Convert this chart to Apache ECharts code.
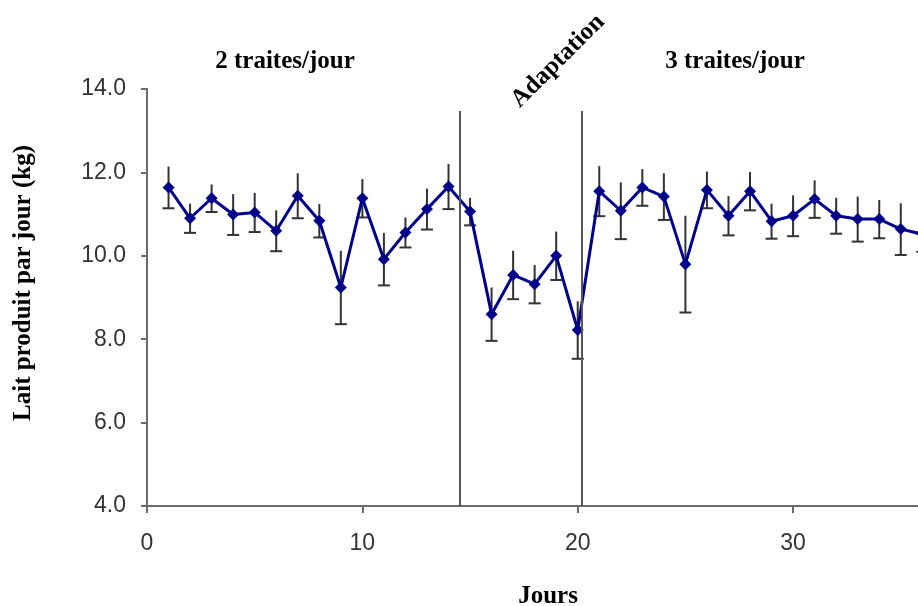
<!DOCTYPE html>
<html>
<head>
<meta charset="utf-8">
<script src="https://cdn.jsdelivr.net/npm/echarts@6/dist/echarts.min.js"></script>
<style>
html,body{margin:0;padding:0;background:#fff;}
#chart{width:918px;height:606px;}
</style>
</head>
<body>
<div id="chart"></div>
<script>
// Data
var days = [1,2,3,4,5,6,7,8,9,10,11,12,13,14,15,16,17,18,19,20,21,22,23,24,25,26,27,28,29,30,31,32,33,34,35,36];
var means = [11.64,10.90,11.38,10.99,11.04,10.60,11.44,10.84,9.24,11.38,9.92,10.56,11.12,11.66,11.06,8.60,9.54,9.32,10.00,8.22,11.55,11.08,11.64,11.42,9.80,11.58,10.96,11.55,10.83,10.96,11.36,10.96,10.88,10.88,10.64,10.52];
var errors = [0.50,0.35,0.33,0.49,0.47,0.49,0.54,0.40,0.88,0.46,0.63,0.36,0.49,0.54,0.33,0.64,0.58,0.46,0.58,0.69,0.60,0.68,0.44,0.56,1.16,0.44,0.47,0.46,0.42,0.49,0.45,0.43,0.54,0.46,0.62,0.42];
var separators = [14.5, 20.2];
var separatorTop = 13.47;
var yTicks = [4, 14, 2];      // min, max, interval
var xTicks = [0, 35.8, 10];   // min, visible max, interval
var xTickValues = [0, 10, 20, 30];
var periodLabels = ['2 traites/jour', 'Adaptation', '3 traites/jour'];
var xTitle = 'Jours';
var yTitle = 'Lait produit par jour (kg)';

var lineData = days.map(function (d, i) { return [d, means[i]]; });
var errData = days.map(function (d, i) { return [d, means[i] - errors[i], means[i] + errors[i]]; });

var chart = echarts.init(document.getElementById('chart'), null, {renderer: 'canvas'});
var titleFont = {fontFamily: 'Liberation Serif', fontWeight: 'bold', fontSize: 25, fill: '#000'};

chart.setOption({
  animation: false,
  backgroundColor: '#fff',
  grid: {left: 147, top: 89, right: 0, bottom: 100, containLabel: false},
  xAxis: {
    type: 'value', min: xTicks[0], max: xTicks[1], interval: xTicks[2],
    axisLine: {show: true, lineStyle: {color: '#6b6b6b', width: 2}},
    axisTick: {show: true, length: 7, customValues: xTickValues, lineStyle: {color: '#6b6b6b', width: 2}},
    axisLabel: {
      color: '#333', fontFamily: 'Liberation Sans', fontSize: 23, margin: 26,
      customValues: xTickValues,
      formatter: function (v) { return String(v); }
    },
    splitLine: {show: false}
  },
  yAxis: {
    type: 'value', min: yTicks[0], max: yTicks[1], interval: yTicks[2],
    axisLine: {show: true, lineStyle: {color: '#6b6b6b', width: 2}},
    axisTick: {show: true, length: 6, lineStyle: {color: '#6b6b6b', width: 2}},
    axisLabel: {
      color: '#333', fontFamily: 'Liberation Sans', fontSize: 23, margin: 21,
      formatter: function (v) { return v.toFixed(1); }
    },
    splitLine: {show: false}
  },
  series: [
    {
      type: 'custom',
      z: 1,
      clip: false,
      data: errData,
      renderItem: function (params, api) {
        var x = api.value(0);
        var lo = api.coord([x, api.value(1)]);
        var hi = api.coord([x, api.value(2)]);
        var capHalf = 6;
        var style = {stroke: '#333', lineWidth: 2};
        return {
          type: 'group',
          children: [
            {type: 'line', shape: {x1: lo[0], y1: lo[1], x2: hi[0], y2: hi[1]}, style: style},
            {type: 'line', shape: {x1: lo[0] - capHalf, y1: lo[1], x2: lo[0] + capHalf, y2: lo[1]}, style: style}
          ]
        };
      }
    },
    {
      type: 'line',
      z: 3,
      data: lineData,
      symbol: 'diamond',
      symbolSize: 12,
      clip: false,
      lineStyle: {color: '#00008b', width: 3},
      itemStyle: {color: '#00008b'},
      markLine: {
        silent: true,
        symbol: ['none', 'none'],
        label: {show: false},
        lineStyle: {color: '#555', width: 2, type: 'solid'},
        data: separators.map(function (s) {
          return [{coord: [s, yTicks[0]]}, {coord: [s, separatorTop]}];
        })
      }
    }
  ],
  graphic: [
    {type: 'text', style: Object.assign({text: periodLabels[0], x: 285, y: 62, align: 'center', verticalAlign: 'middle'}, titleFont)},
    {type: 'text', style: Object.assign({text: periodLabels[1], x: 0, y: 0, align: 'center', verticalAlign: 'middle'}, titleFont), x: 558, y: 61, rotation: Math.PI / 4},
    {type: 'text', style: Object.assign({text: periodLabels[2], x: 735, y: 62, align: 'center', verticalAlign: 'middle'}, titleFont)},
    {type: 'text', style: Object.assign({text: xTitle, x: 548, y: 597, align: 'center', verticalAlign: 'middle'}, titleFont)},
    {type: 'text', style: Object.assign({text: yTitle, x: 0, y: 0, align: 'center', verticalAlign: 'middle'}, titleFont), x: 24, y: 283, rotation: Math.PI / 2}
  ]
});
</script>
</body>
</html>
